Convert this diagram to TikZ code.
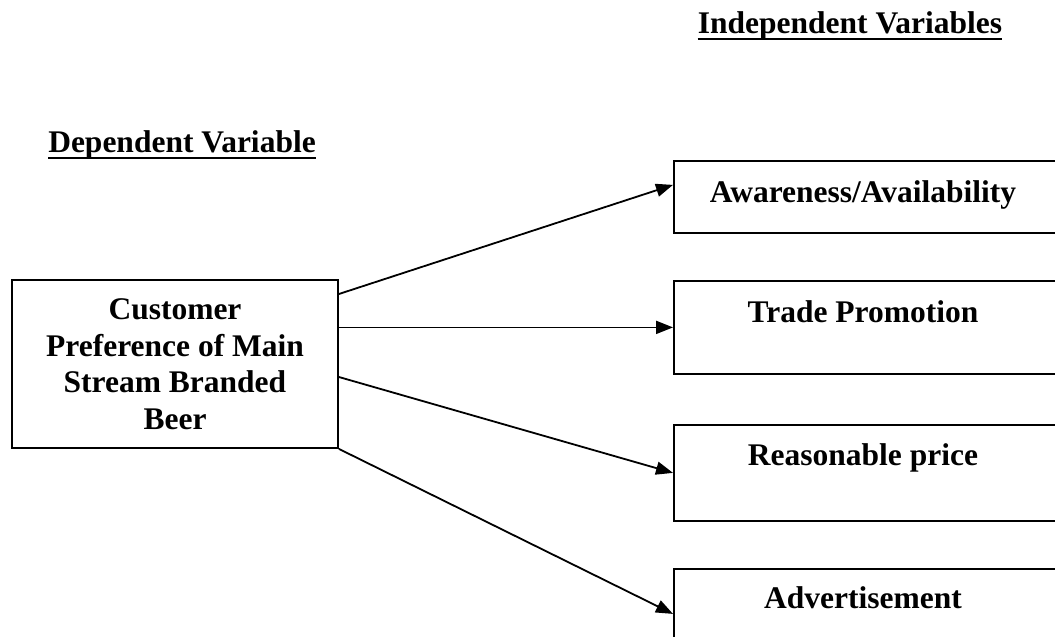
\documentclass[tikz,border=0pt]{standalone}
\usepackage{fontspec}
\setmainfont{Liberation Serif}
\usetikzlibrary{arrows.meta,calc}
\begin{document}
\begin{tikzpicture}[x=1pt,y=-1pt,
  box/.style={draw, line width=1.8pt, inner sep=0pt},
  lbl/.style={font=\fontsize{31.5}{36.5}\selectfont\bfseries, inner sep=0pt, anchor=base},
  rbox/.style={box, anchor=north west, minimum width=400pt},
  conn/.style={line width=1.8pt, -{Triangle[length=17pt,width=13pt]}},
  uline/.style={line width=2.5pt}]
\useasboundingbox[fill=white] (0,0) rectangle (1055,637);
\begin{scope}
\clip (0,0) rectangle (1055,637);
% headings
\node[lbl] (indep) at (850,33) {Independent Variables};
\draw[uline] ([yshift=-6pt]indep.base west) -- ([yshift=-6pt]indep.base east);
\node[lbl] (dep) at (182,152) {Dependent Variable};
\draw[uline] ([yshift=-6pt]dep.base west) -- ([yshift=-6pt]dep.base east);
% dependent box
\node[box, minimum width=326pt, minimum height=168pt, align=center,
      font=\fontsize{31.5}{36.5}\selectfont\bfseries] (dv) at (175,364)
  {Customer\\Preference of Main\\Stream Branded\\Beer};
% independent boxes
\node[rbox, minimum height=72pt] (b1) at (673,160) {};
\node[rbox, minimum height=93pt] (b2) at (673,280) {};
\node[rbox, minimum height=96pt] (b3) at (673,424) {};
\node[rbox, minimum height=90pt] (b4) at (673,568) {};
\node[lbl] (t1) at (863,202) {Awareness/Availability};
\node[lbl] (t2) at (863,322) {Trade Promotion};
\node[lbl] (t3) at (863,465) {Reasonable price};
\node[lbl] (t4) at (863,608) {Advertisement};
% connectors
\draw[conn] ([yshift=70pt]dv.east) -- ([yshift=12pt]b1.west);
\draw[conn] (dv.east |- b2.west) -- (b2.west);
\draw[conn] ([yshift=-13pt]dv.east) -- (b3.west);
\draw[conn] (dv.south east) -- (b4.west);
\end{scope}
\end{tikzpicture}
\end{document}
